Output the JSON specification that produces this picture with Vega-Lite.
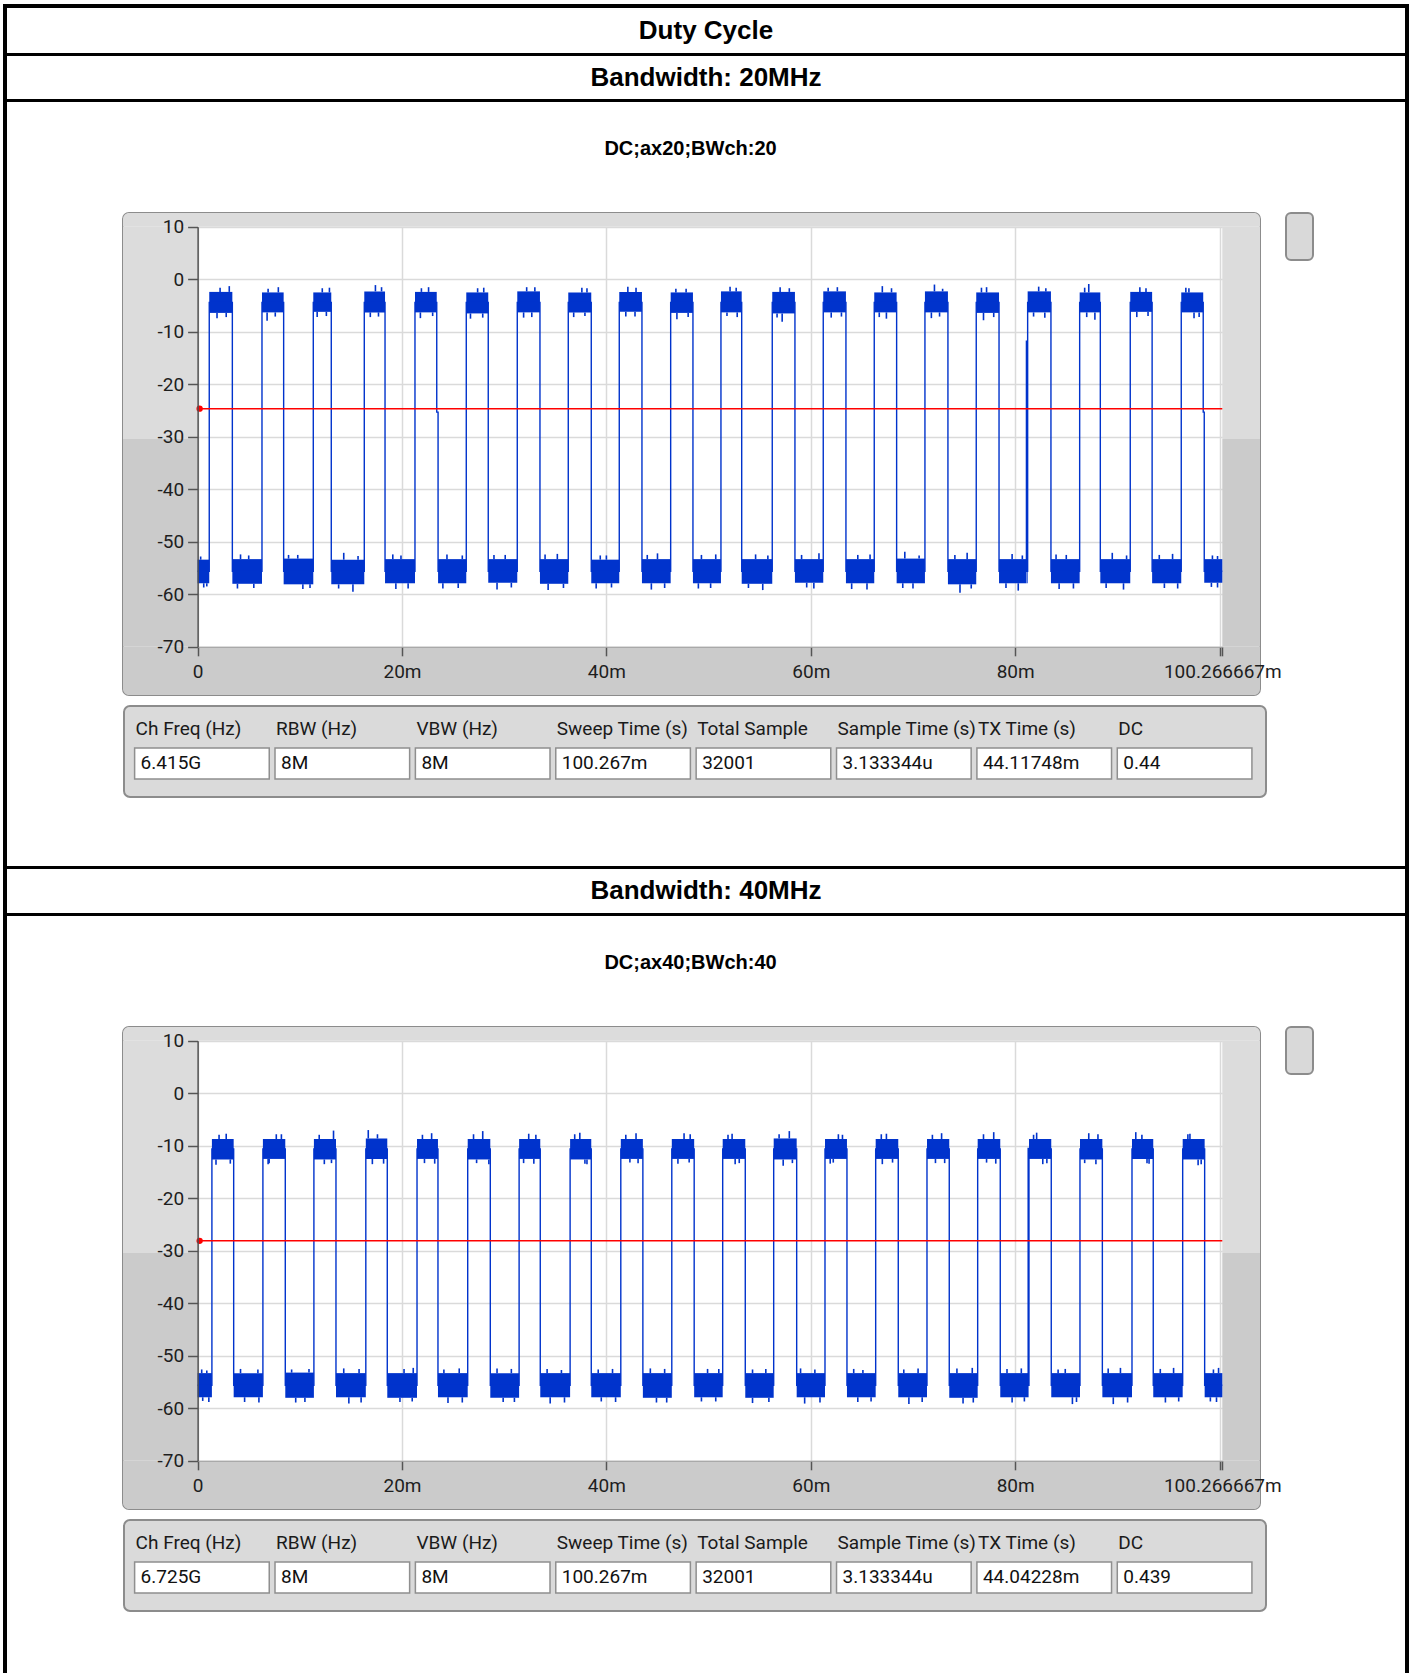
{
 "$schema": "https://vega.github.io/schema/vega-lite/v6.json",
 "padding": {"left": 3, "top": 4, "right": 0, "bottom": 0},
 "background": "white",
 "config": {"view": {"stroke": null}, "concat": {"spacing": 0}},
 "datasets": {
  "s20": [
   {"i":0,"s":0,"e":1.14,"m":-55.6,"lo":-57.9,"hi":-53.4,"da":0.6,"dt":-58.7,"ub":0.3,"uv":-52.8,"db":0.9,"dv":-58.5},
   {"i":1,"s":1.14,"e":3.40,"m":-4.4,"lo":-6.4,"hi":-2.4,"ua":3.1,"ut":-1.3,"da":1.9,"dt":-7.4,"ub":2.2,"uv":-1.6,"db":2.8,"dv":-7.2},
   {"i":2,"s":3.40,"e":6.30,"m":-55.6,"lo":-58.0,"hi":-53.3,"ua":4.2,"ut":-52.4,"da":5.5,"dt":-58.8,"ub":5.0,"uv":-52.6,"db":3.9,"dv":-58.9},
   {"i":3,"s":6.30,"e":8.42,"m":-4.4,"lo":-6.3,"hi":-2.5,"ua":7.9,"ut":-1.5,"da":6.8,"dt":-7.9,"ub":6.9,"uv":-1.8,"db":7.6,"dv":-7.1},
   {"i":4,"s":8.42,"e":11.32,"m":-55.6,"lo":-58.1,"hi":-53.2,"ua":9.8,"ut":-52.5,"da":10.3,"dt":-59.0,"ub":8.9,"uv":-52.5,"db":11.0,"dv":-58.8},
   {"i":5,"s":11.32,"e":13.08,"m":-4.4,"lo":-6.2,"hi":-2.5,"ua":12.9,"ut":-1.6,"da":11.7,"dt":-7.2,"ub":12.2,"uv":-1.7,"db":12.6,"dv":-7.0},
   {"i":6,"s":13.08,"e":16.31,"m":-55.6,"lo":-58.1,"hi":-53.4,"ua":14.3,"ut":-52.1,"da":15.2,"dt":-59.5,"ub":15.7,"uv":-52.7,"db":13.8,"dv":-58.9},
   {"i":7,"s":16.31,"e":18.34,"m":-4.4,"lo":-6.3,"hi":-2.3,"ua":17.4,"ut":-1.1,"da":16.9,"dt":-7.2,"ub":18.0,"uv":-1.5,"db":17.7,"dv":-7.1},
   {"i":8,"s":18.34,"e":21.27,"m":-55.6,"lo":-57.9,"hi":-53.3,"ua":19.9,"ut":-52.6,"da":20.6,"dt":-58.9,"ub":19.1,"uv":-52.4,"db":19.4,"dv":-59.0},
   {"i":9,"s":21.27,"e":23.40,"m":-4.4,"lo":-6.3,"hi":-2.4,"ua":22.6,"ut":-1.5,"da":21.8,"dt":-7.4,"ub":21.9,"uv":-1.7,"db":23.0,"dv":-7.0},
   {"i":10,"s":23.40,"e":23.53,"m":-25.3,"lo":-25.3,"hi":-25.3},
   {"i":11,"s":23.53,"e":26.29,"m":-55.6,"lo":-57.9,"hi":-53.3,"ua":24.4,"ut":-52.4,"da":25.5,"dt":-58.8,"ub":25.9,"uv":-52.6,"db":24.0,"dv":-58.9},
   {"i":12,"s":26.29,"e":28.44,"m":-4.4,"lo":-6.5,"hi":-2.5,"ua":27.4,"ut":-1.7,"da":26.7,"dt":-7.5,"ub":28.0,"uv":-1.6,"db":27.9,"dv":-7.3},
   {"i":13,"s":28.44,"e":31.28,"m":-55.6,"lo":-57.8,"hi":-53.3,"ua":30.1,"ut":-52.5,"da":29.3,"dt":-59.1,"ub":29.0,"uv":-52.5,"db":30.7,"dv":-58.7},
   {"i":14,"s":31.28,"e":33.50,"m":-4.4,"lo":-6.3,"hi":-2.3,"ua":32.2,"ut":-1.5,"da":31.9,"dt":-7.3,"ub":33.0,"uv":-1.5,"db":32.7,"dv":-7.2},
   {"i":15,"s":33.50,"e":36.27,"m":-55.6,"lo":-58.0,"hi":-53.3,"ua":35.2,"ut":-52.3,"da":34.3,"dt":-59.2,"ub":34.0,"uv":-52.4,"db":35.8,"dv":-58.8},
   {"i":16,"s":36.27,"e":38.52,"m":-4.4,"lo":-6.3,"hi":-2.5,"ua":37.6,"ut":-1.6,"da":36.8,"dt":-7.2,"ub":38.1,"uv":-1.7,"db":37.9,"dv":-7.0},
   {"i":17,"s":38.52,"e":41.26,"m":-55.6,"lo":-57.9,"hi":-53.4,"ua":39.4,"ut":-52.6,"da":40.5,"dt":-58.7,"ub":40.0,"uv":-52.6,"db":39.0,"dv":-58.9},
   {"i":18,"s":41.26,"e":43.48,"m":-4.4,"lo":-6.2,"hi":-2.4,"ua":42.1,"ut":-1.4,"da":42.8,"dt":-7.1,"ub":42.9,"uv":-1.6,"db":41.9,"dv":-7.1},
   {"i":19,"s":43.48,"e":46.29,"m":-55.6,"lo":-57.9,"hi":-53.3,"ua":45.0,"ut":-52.2,"da":44.4,"dt":-59.1,"ub":44.0,"uv":-52.5,"db":45.7,"dv":-58.8},
   {"i":20,"s":46.29,"e":48.47,"m":-4.4,"lo":-6.4,"hi":-2.5,"ua":47.8,"ut":-1.8,"da":46.9,"dt":-7.6,"ub":46.8,"uv":-1.8,"db":48.0,"dv":-7.2},
   {"i":21,"s":48.47,"e":51.21,"m":-55.6,"lo":-57.9,"hi":-53.3,"ua":49.3,"ut":-52.5,"da":50.2,"dt":-58.8,"ub":50.7,"uv":-52.4,"db":49.0,"dv":-58.9},
   {"i":22,"s":51.21,"e":53.24,"m":-4.4,"lo":-6.3,"hi":-2.3,"ua":52.1,"ut":-1.4,"da":52.8,"dt":-7.2,"ub":52.7,"uv":-1.6,"db":51.8,"dv":-7.0},
   {"i":23,"s":53.24,"e":56.23,"m":-55.6,"lo":-58.0,"hi":-53.3,"ua":54.6,"ut":-52.4,"da":55.3,"dt":-59.2,"ub":55.8,"uv":-52.6,"db":53.9,"dv":-58.8},
   {"i":24,"s":56.23,"e":58.45,"m":-4.4,"lo":-6.5,"hi":-2.4,"ua":57.0,"ut":-1.5,"da":57.2,"dt":-8.1,"ub":57.9,"uv":-1.7,"db":56.7,"dv":-7.3},
   {"i":25,"s":58.45,"e":61.22,"m":-55.6,"lo":-57.8,"hi":-53.3,"ua":60.8,"ut":-52.2,"da":59.6,"dt":-58.7,"ub":59.1,"uv":-52.5,"db":60.3,"dv":-58.9},
   {"i":26,"s":61.22,"e":63.44,"m":-4.4,"lo":-6.3,"hi":-2.3,"ua":62.6,"ut":-1.5,"da":62.0,"dt":-7.3,"ub":61.7,"uv":-1.6,"db":63.0,"dv":-7.1},
   {"i":27,"s":63.44,"e":66.21,"m":-55.6,"lo":-57.9,"hi":-53.3,"ua":64.6,"ut":-52.5,"da":65.5,"dt":-59.1,"ub":65.8,"uv":-52.4,"db":64.0,"dv":-59.0},
   {"i":28,"s":66.21,"e":68.40,"m":-4.4,"lo":-6.3,"hi":-2.5,"ua":67.0,"ut":-1.3,"da":67.4,"dt":-7.5,"ub":67.9,"uv":-1.7,"db":66.7,"dv":-7.2},
   {"i":29,"s":68.40,"e":71.17,"m":-55.6,"lo":-57.9,"hi":-53.2,"ua":69.2,"ut":-51.9,"da":70.0,"dt":-58.9,"ub":70.6,"uv":-52.6,"db":69.0,"dv":-58.8},
   {"i":30,"s":71.17,"e":73.42,"m":-4.4,"lo":-6.3,"hi":-2.3,"ua":72.1,"ut":-1.0,"da":71.8,"dt":-7.4,"ub":72.9,"uv":-1.8,"db":72.6,"dv":-7.1},
   {"i":31,"s":73.42,"e":76.19,"m":-55.6,"lo":-58.1,"hi":-53.3,"ua":75.3,"ut":-52.1,"da":74.6,"dt":-59.7,"ub":74.1,"uv":-52.5,"db":75.7,"dv":-58.9},
   {"i":32,"s":76.19,"e":78.42,"m":-4.4,"lo":-6.4,"hi":-2.5,"ua":77.2,"ut":-1.5,"da":76.9,"dt":-7.8,"ub":76.7,"uv":-1.6,"db":77.9,"dv":-7.2},
   {"i":33,"s":78.42,"e":81.10,"m":-55.6,"lo":-57.9,"hi":-53.3,"ua":79.7,"ut":-52.3,"da":80.3,"dt":-59.3,"ub":80.7,"uv":-52.6,"db":79.1,"dv":-58.8},
   {"i":34,"s":81.10,"e":81.13,"m":-11.8,"lo":-11.8,"hi":-11.8},
   {"i":35,"s":81.13,"e":81.22,"m":-55.6,"lo":-57.9,"hi":-53.3},
   {"i":36,"s":81.22,"e":83.50,"m":-4.4,"lo":-6.3,"hi":-2.3,"ua":82.3,"ut":-1.4,"da":82.9,"dt":-7.3,"ub":83.0,"uv":-1.7,"db":81.8,"dv":-7.1},
   {"i":37,"s":83.50,"e":86.31,"m":-55.6,"lo":-57.9,"hi":-53.3,"ua":85.0,"ut":-52.5,"da":84.3,"dt":-59.0,"ub":84.0,"uv":-52.4,"db":85.7,"dv":-58.9},
   {"i":38,"s":86.31,"e":88.33,"m":-4.4,"lo":-6.3,"hi":-2.5,"ua":87.2,"ut":-0.9,"da":87.8,"dt":-7.7,"ub":86.8,"uv":-1.6,"db":87.0,"dv":-7.2},
   {"i":39,"s":88.33,"e":91.26,"m":-55.6,"lo":-57.9,"hi":-53.3,"ua":89.5,"ut":-52.1,"da":90.6,"dt":-59.1,"ub":90.9,"uv":-52.6,"db":88.9,"dv":-58.8},
   {"i":40,"s":91.26,"e":93.40,"m":-4.4,"lo":-6.2,"hi":-2.4,"ua":92.2,"ut":-1.5,"da":91.9,"dt":-7.2,"ub":92.8,"uv":-1.7,"db":93.0,"dv":-7.0},
   {"i":41,"s":93.40,"e":96.25,"m":-55.6,"lo":-57.9,"hi":-53.3,"ua":95.4,"ut":-52.3,"da":94.6,"dt":-58.8,"ub":94.1,"uv":-52.5,"db":95.9,"dv":-58.9},
   {"i":42,"s":96.25,"e":98.40,"m":-4.4,"lo":-6.3,"hi":-2.5,"ua":97.0,"ut":-1.7,"da":97.5,"dt":-7.4,"ub":96.7,"uv":-1.6,"db":98.0,"dv":-7.2},
   {"i":43,"s":98.40,"e":98.50,"m":-25.3,"lo":-25.3,"hi":-25.3},
   {"i":44,"s":98.50,"e":100.266667,"m":-55.6,"lo":-57.8,"hi":-53.3,"ua":99.8,"ut":-52.7,"da":99.2,"dt":-58.6,"ub":99.3,"uv":-52.6,"db":99.8,"dv":-58.7}
  ],
  "s40": [
   {"i":0,"s":0,"e":1.40,"m":-55.6,"lo":-57.9,"hi":-53.3,"ua":0.9,"ut":-52.8,"da":0.5,"dt":-58.6,"ub":0.4,"uv":-52.6,"db":1.1,"dv":-58.8},
   {"i":1,"s":1.40,"e":3.53,"m":-10.6,"lo":-12.6,"hi":-8.7,"ua":2.8,"ut":-7.7,"da":1.8,"dt":-13.6,"ub":2.1,"uv":-7.9,"db":3.2,"dv":-13.4},
   {"i":2,"s":3.53,"e":6.39,"m":-55.6,"lo":-57.9,"hi":-53.3,"ua":5.9,"ut":-52.6,"da":4.6,"dt":-58.8,"ub":4.2,"uv":-52.5,"db":6.0,"dv":-58.9},
   {"i":3,"s":6.39,"e":8.58,"m":-10.6,"lo":-12.5,"hi":-8.7,"ua":7.7,"ut":-7.8,"da":7.0,"dt":-13.3,"ub":8.2,"uv":-7.8,"db":6.9,"dv":-13.5},
   {"i":4,"s":8.58,"e":11.38,"m":-55.6,"lo":-58.0,"hi":-53.2,"ua":10.9,"ut":-52.5,"da":9.6,"dt":-58.9,"ub":9.2,"uv":-52.6,"db":10.5,"dv":-58.8},
   {"i":5,"s":11.38,"e":13.54,"m":-10.6,"lo":-12.6,"hi":-8.7,"ua":13.3,"ut":-7.1,"da":12.4,"dt":-13.5,"ub":11.9,"uv":-7.9,"db":13.1,"dv":-13.3},
   {"i":6,"s":13.54,"e":16.46,"m":-55.6,"lo":-57.9,"hi":-53.3,"ua":15.8,"ut":-52.5,"da":14.8,"dt":-59.1,"ub":14.3,"uv":-52.4,"db":16.0,"dv":-58.9},
   {"i":7,"s":16.46,"e":18.56,"m":-10.6,"lo":-12.5,"hi":-8.6,"ua":16.7,"ut":-7.0,"da":18.2,"dt":-13.4,"ub":17.6,"uv":-7.8,"db":17.1,"dv":-13.5},
   {"i":8,"s":18.56,"e":21.47,"m":-55.6,"lo":-58.0,"hi":-53.3,"ua":21.1,"ut":-52.3,"da":19.8,"dt":-58.8,"ub":20.2,"uv":-52.5,"db":21.0,"dv":-58.7},
   {"i":9,"s":21.47,"e":23.52,"m":-10.6,"lo":-12.5,"hi":-8.7,"ua":22.9,"ut":-7.6,"da":22.2,"dt":-13.3,"ub":22.0,"uv":-7.9,"db":23.2,"dv":-13.4},
   {"i":10,"s":23.52,"e":26.43,"m":-55.6,"lo":-57.9,"hi":-53.3,"ua":25.6,"ut":-52.4,"da":24.5,"dt":-59.0,"ub":24.1,"uv":-52.6,"db":25.9,"dv":-58.9},
   {"i":11,"s":26.43,"e":28.64,"m":-10.6,"lo":-12.6,"hi":-8.7,"ua":27.9,"ut":-7.2,"da":28.5,"dt":-13.5,"ub":27.0,"uv":-7.8,"db":27.3,"dv":-13.3},
   {"i":12,"s":28.64,"e":31.46,"m":-55.6,"lo":-58.0,"hi":-53.3,"ua":30.7,"ut":-52.5,"da":29.9,"dt":-58.8,"ub":29.3,"uv":-52.4,"db":31.0,"dv":-58.8},
   {"i":13,"s":31.46,"e":33.53,"m":-10.6,"lo":-12.5,"hi":-8.7,"ua":32.4,"ut":-7.7,"da":31.9,"dt":-13.3,"ub":33.1,"uv":-7.9,"db":32.9,"dv":-13.4},
   {"i":14,"s":33.53,"e":36.45,"m":-55.6,"lo":-57.9,"hi":-53.3,"ua":35.6,"ut":-52.7,"da":34.5,"dt":-59.1,"ub":34.2,"uv":-52.5,"db":35.9,"dv":-58.9},
   {"i":15,"s":36.45,"e":38.52,"m":-10.6,"lo":-12.6,"hi":-8.7,"ua":37.4,"ut":-7.5,"da":37.9,"dt":-13.4,"ub":36.9,"uv":-7.8,"db":38.1,"dv":-13.5},
   {"i":16,"s":38.52,"e":41.41,"m":-55.6,"lo":-57.9,"hi":-53.3,"ua":40.6,"ut":-52.5,"da":39.5,"dt":-58.7,"ub":39.2,"uv":-52.6,"db":40.9,"dv":-58.8},
   {"i":17,"s":41.41,"e":43.57,"m":-10.6,"lo":-12.5,"hi":-8.7,"ua":42.9,"ut":-7.6,"da":42.3,"dt":-13.2,"ub":41.9,"uv":-7.9,"db":43.1,"dv":-13.3},
   {"i":18,"s":43.57,"e":46.40,"m":-55.6,"lo":-58.0,"hi":-53.3,"ua":45.7,"ut":-52.5,"da":44.9,"dt":-58.9,"ub":44.3,"uv":-52.4,"db":45.9,"dv":-58.9},
   {"i":19,"s":46.40,"e":48.59,"m":-10.6,"lo":-12.5,"hi":-8.7,"ua":47.6,"ut":-7.6,"da":48.1,"dt":-13.2,"ub":48.2,"uv":-7.8,"db":47.0,"dv":-13.4},
   {"i":20,"s":48.59,"e":51.38,"m":-55.6,"lo":-57.9,"hi":-53.3,"ua":49.9,"ut":-52.5,"da":50.7,"dt":-58.7,"ub":51.0,"uv":-52.5,"db":49.3,"dv":-58.7},
   {"i":21,"s":51.38,"e":53.59,"m":-10.6,"lo":-12.5,"hi":-8.7,"ua":52.3,"ut":-7.7,"da":53.0,"dt":-13.3,"ub":51.9,"uv":-7.9,"db":52.6,"dv":-13.5},
   {"i":22,"s":53.59,"e":56.37,"m":-55.6,"lo":-58.0,"hi":-53.3,"ua":55.6,"ut":-52.5,"da":54.3,"dt":-59.0,"ub":54.3,"uv":-52.6,"db":55.9,"dv":-58.8},
   {"i":23,"s":56.37,"e":58.62,"m":-10.6,"lo":-12.6,"hi":-8.6,"ua":57.9,"ut":-7.2,"da":57.3,"dt":-13.8,"ub":56.9,"uv":-7.8,"db":58.2,"dv":-13.3},
   {"i":24,"s":58.62,"e":61.39,"m":-55.6,"lo":-57.9,"hi":-53.3,"ua":60.4,"ut":-52.6,"da":59.4,"dt":-59.1,"ub":59.0,"uv":-52.4,"db":60.9,"dv":-58.9},
   {"i":25,"s":61.39,"e":63.54,"m":-10.6,"lo":-12.5,"hi":-8.7,"ua":62.7,"ut":-7.8,"da":62.2,"dt":-13.2,"ub":63.1,"uv":-7.9,"db":61.9,"dv":-13.4},
   {"i":26,"s":63.54,"e":66.35,"m":-55.6,"lo":-57.9,"hi":-53.3,"ua":65.1,"ut":-52.7,"da":64.6,"dt":-58.8,"ub":64.2,"uv":-52.5,"db":65.9,"dv":-58.7},
   {"i":27,"s":66.35,"e":68.56,"m":-10.6,"lo":-12.5,"hi":-8.7,"ua":67.4,"ut":-7.7,"da":68.0,"dt":-13.2,"ub":66.9,"uv":-7.8,"db":67.0,"dv":-13.5},
   {"i":28,"s":68.56,"e":71.37,"m":-55.6,"lo":-57.9,"hi":-53.3,"ua":70.5,"ut":-52.4,"da":69.6,"dt":-59.2,"ub":69.1,"uv":-52.6,"db":70.9,"dv":-58.8},
   {"i":29,"s":71.37,"e":73.55,"m":-10.6,"lo":-12.5,"hi":-8.7,"ua":72.8,"ut":-7.6,"da":72.2,"dt":-13.3,"ub":71.9,"uv":-7.9,"db":73.1,"dv":-13.3},
   {"i":30,"s":73.55,"e":76.33,"m":-55.6,"lo":-58.0,"hi":-53.3,"ua":75.8,"ut":-52.3,"da":74.9,"dt":-59.1,"ub":74.3,"uv":-52.4,"db":75.9,"dv":-58.9},
   {"i":31,"s":76.33,"e":78.54,"m":-10.6,"lo":-12.5,"hi":-8.7,"ua":77.9,"ut":-7.4,"da":77.2,"dt":-13.2,"ub":76.9,"uv":-7.8,"db":78.1,"dv":-13.4},
   {"i":32,"s":78.54,"e":81.27,"m":-55.6,"lo":-57.9,"hi":-53.3,"ua":80.6,"ut":-52.4,"da":79.7,"dt":-58.9,"ub":79.2,"uv":-52.5,"db":80.9,"dv":-58.7},
   {"i":33,"s":81.27,"e":81.30,"m":-10.5,"lo":-10.5,"hi":-10.5},
   {"i":34,"s":81.30,"e":81.35,"m":-55.6,"lo":-57.9,"hi":-53.3},
   {"i":35,"s":81.35,"e":83.53,"m":-10.6,"lo":-12.5,"hi":-8.7,"ua":82.1,"ut":-7.5,"da":83.1,"dt":-13.3,"ub":81.8,"uv":-7.9,"db":82.7,"dv":-13.5},
   {"i":36,"s":83.53,"e":86.34,"m":-55.6,"lo":-57.9,"hi":-53.3,"ua":84.9,"ut":-52.5,"da":85.6,"dt":-59.2,"ub":84.2,"uv":-52.6,"db":86.0,"dv":-58.8},
   {"i":37,"s":86.34,"e":88.53,"m":-10.6,"lo":-12.6,"hi":-8.7,"ua":87.2,"ut":-7.6,"da":87.9,"dt":-13.5,"ub":88.1,"uv":-7.8,"db":86.8,"dv":-13.3},
   {"i":38,"s":88.53,"e":91.43,"m":-55.6,"lo":-57.9,"hi":-53.3,"ua":90.3,"ut":-52.3,"da":89.6,"dt":-59.2,"ub":89.1,"uv":-52.4,"db":91.0,"dv":-58.9},
   {"i":39,"s":91.43,"e":93.51,"m":-10.6,"lo":-12.5,"hi":-8.7,"ua":91.8,"ut":-7.4,"da":92.9,"dt":-13.3,"ub":92.4,"uv":-7.9,"db":93.1,"dv":-13.4},
   {"i":40,"s":93.51,"e":96.39,"m":-55.6,"lo":-57.9,"hi":-53.3,"ua":95.5,"ut":-52.3,"da":94.7,"dt":-58.9,"ub":94.2,"uv":-52.5,"db":96.0,"dv":-58.7},
   {"i":41,"s":96.39,"e":98.54,"m":-10.6,"lo":-12.6,"hi":-8.7,"ua":97.1,"ut":-7.7,"da":97.9,"dt":-13.7,"ub":96.9,"uv":-7.8,"db":98.2,"dv":-13.5},
   {"i":42,"s":98.54,"e":100.266667,"m":-55.6,"lo":-57.9,"hi":-53.3,"ua":99.9,"ut":-52.3,"da":99.1,"dt":-58.7,"ub":99.4,"uv":-52.6,"db":99.7,"dv":-58.8}
  ],
  "th20": [{"t0":0,"t1":100.266667,"y":-24.65,"d":0.2}],
  "th40": [{"t0":0,"t1":100.266667,"y":-28.1,"d":0.2}],
  "tab20": [
   {"c":"Ch Freq (Hz)","v":"6.415G"},{"c":"RBW (Hz)","v":"8M"},{"c":"VBW (Hz)","v":"8M"},{"c":"Sweep Time (s)","v":"100.267m"},
   {"c":"Total Sample","v":"32001"},{"c":"Sample Time (s)","v":"3.133344u"},{"c":"TX Time (s)","v":"44.11748m"},{"c":"DC","v":"0.44"}
  ],
  "tab40": [
   {"c":"Ch Freq (Hz)","v":"6.725G"},{"c":"RBW (Hz)","v":"8M"},{"c":"VBW (Hz)","v":"8M"},{"c":"Sweep Time (s)","v":"100.267m"},
   {"c":"Total Sample","v":"32001"},{"c":"Sample Time (s)","v":"3.133344u"},{"c":"TX Time (s)","v":"44.04228m"},{"c":"DC","v":"0.439"}
  ]
 },
 "spacing": 0,
 "hconcat": [
  {"width": 4, "height": 1669, "view": {"fill": "black"}, "data": {"values": [{}]}, "mark": {"type": "point", "size": 0, "opacity": 0}},
  {"spacing": 0, "vconcat": [
   {"width": 1398, "height": 4, "view": {"fill": "black"}, "data": {"values": [{}]}, "mark": {"type": "point", "size": 0, "opacity": 0}},
   {"width": 1398, "height": 45, "data": {"values": [{"t": "Duty Cycle"}]}, "mark": {"type": "text", "font": "Liberation Sans", "fontWeight": "bold", "fontSize": 26, "color": "black"}, "encoding": {"text": {"field": "t"}}},
   {"width": 1398, "height": 3, "view": {"fill": "black"}, "data": {"values": [{}]}, "mark": {"type": "point", "size": 0, "opacity": 0}},
   {"width": 1398, "height": 43, "data": {"values": [{"t": "Bandwidth: 20MHz"}]}, "mark": {"type": "text", "font": "Liberation Sans", "fontWeight": "bold", "fontSize": 26, "color": "black"}, "encoding": {"text": {"field": "t"}}},
   {"width": 1398, "height": 3, "view": {"fill": "black"}, "data": {"values": [{}]}, "mark": {"type": "point", "size": 0, "opacity": 0}},
   {"spacing": 0, "vconcat": [
    {"spacing": 27, "hconcat": [
     {"width": 88, "height": 110, "data": {"values": [{}]}, "mark": {"type": "point", "size": 0, "opacity": 0}},
     {"width": 1137, "height": 110, "data": {"values": [{"t": "DC;ax20;BWch:20"}]}, "mark": {"type": "text", "font": "Liberation Sans", "fontWeight": "bold", "fontSize": 20, "dy": -8, "color": "black"}, "encoding": {"text": {"field": "t"}}}
    ]},
    {"spacing": 2, "hconcat": [
     {"width": 113, "height": 492, "data": {"values": [{}]}, "mark": {"type": "point", "size": 0, "opacity": 0}},
     {"width": 1137, "height": 482,
      "view": {"fill": "white", "stroke": "#8c8c8c", "strokeWidth": 2, "cornerRadius": 6},
      "resolve": {"axis": {"x": "independent", "y": "independent"}},
      "layer": [
       {"data": {"values": [{}]}, "mark": {"type": "rect", "fill": "#dcdcdc", "cornerRadiusTopLeft": 6, "cornerRadiusTopRight": 6},
        "encoding": {"x": {"value": 0}, "x2": {"value": "width"}, "y": {"datum": 10, "type": "quantitative", "scale": {"domain": [-70, 10], "range": [433.8, 13.8], "nice": false, "zero": false}, "axis": null}, "y2": {"value": 0}}},
       {"data": {"values": [{}]}, "mark": {"type": "rect", "fill": "#cbcbcb", "cornerRadiusBottomLeft": 6, "cornerRadiusBottomRight": 6},
        "encoding": {"x": {"value": 0}, "x2": {"value": "width"}, "y": {"datum": -70, "type": "quantitative", "scale": {"domain": [-70, 10], "range": [433.8, 13.8], "nice": false, "zero": false}, "axis": null}, "y2": {"value": "height"}}},
       {"data": {"values": [{}]}, "mark": {"type": "rect", "fill": "#dcdcdc"},
        "encoding": {"x": {"datum": 0, "type": "quantitative", "scale": {"domain": [0, 100.266667], "range": [74.6, 1099.3], "nice": false, "zero": false}, "axis": null}, "x2": {"value": 0}, "y": {"datum": 10, "type": "quantitative", "scale": {"domain": [-70, 10], "range": [433.8, 13.8], "nice": false, "zero": false}, "axis": null}, "y2": {"datum": -30.4}}},
       {"data": {"values": [{}]}, "mark": {"type": "rect", "fill": "#cbcbcb"},
        "encoding": {"x": {"datum": 0, "type": "quantitative", "scale": {"domain": [0, 100.266667], "range": [74.6, 1099.3], "nice": false, "zero": false}, "axis": null}, "x2": {"value": 0}, "y": {"datum": -30.4, "type": "quantitative", "scale": {"domain": [-70, 10], "range": [433.8, 13.8], "nice": false, "zero": false}, "axis": null}, "y2": {"datum": -70}}},
       {"data": {"values": [{}]}, "mark": {"type": "rect", "fill": "#dcdcdc"},
        "encoding": {"x": {"datum": 100.266667, "type": "quantitative", "scale": {"domain": [0, 100.266667], "range": [74.6, 1099.3], "nice": false, "zero": false}, "axis": null}, "x2": {"value": "width"}, "y": {"datum": 10, "type": "quantitative", "scale": {"domain": [-70, 10], "range": [433.8, 13.8], "nice": false, "zero": false}, "axis": null}, "y2": {"datum": -30.4}}},
       {"data": {"values": [{}]}, "mark": {"type": "rect", "fill": "#cbcbcb"},
        "encoding": {"x": {"datum": 100.266667, "type": "quantitative", "scale": {"domain": [0, 100.266667], "range": [74.6, 1099.3], "nice": false, "zero": false}, "axis": null}, "x2": {"value": "width"}, "y": {"datum": -30.4, "type": "quantitative", "scale": {"domain": [-70, 10], "range": [433.8, 13.8], "nice": false, "zero": false}, "axis": null}, "y2": {"datum": -70}}},
       {"data": {"name": "s20"}, "mark": {"type": "rect", "color": "#0033cc"},
        "encoding": {
         "x": {"field": "s", "type": "quantitative", "scale": {"domain": [0, 100.266667], "range": [74.6, 1099.3], "nice": false, "zero": false},
               "axis": {"orient": "top", "grid": true, "gridColor": "#dadada", "gridWidth": 1.5, "domain": false, "ticks": false, "labels": false, "title": null, "values": [0, 20, 40, 60, 80, 100], "zindex": 0}},
         "x2": {"field": "e"},
         "y": {"field": "lo", "type": "quantitative", "scale": {"domain": [-70, 10], "range": [433.8, 13.8], "nice": false, "zero": false},
               "axis": {"orient": "left", "offset": -74.6, "grid": true, "gridColor": "#dadada", "gridWidth": 1.5, "domain": false, "ticks": false, "labels": false, "title": null, "values": [-70, -60, -50, -40, -30, -20, -10, 0, 10], "zindex": 0}},
         "y2": {"field": "hi"}}},
       {"data": {"name": "s20"}, "transform": [{"fold": ["s", "e"], "as": ["k", "t"]}], "mark": {"type": "line", "color": "#0033cc", "strokeWidth": 1.4},
        "encoding": {
         "x": {"field": "t", "type": "quantitative", "scale": {"domain": [0, 100.266667], "range": [74.6, 1099.3], "nice": false, "zero": false},
               "axis": {"orient": "bottom", "offset": -48.2, "grid": false, "values": [0, 20, 40, 60, 80, 100, 100.266667], "labelExpr": "datum.value == 0 ? '0' : datum.value > 100.1 ? '100.266667m' : datum.value > 99 ? '' : datum.value + 'm'", "labelFont": "Roboto", "labelFontSize": 19, "labelColor": "#1e1e1e", "labelPadding": 7, "tickSize": 9, "tickColor": "#555555", "tickWidth": 1.5, "domainColor": "#a0a0a0", "domainWidth": 1, "labelOverlap": false, "labelFlush": false, "title": null, "zindex": 1}},
         "y": {"field": "m", "type": "quantitative", "scale": {"domain": [-70, 10], "range": [433.8, 13.8], "nice": false, "zero": false},
               "axis": {"orient": "left", "offset": -74.6, "grid": false, "values": [-70, -60, -50, -40, -30, -20, -10, 0, 10], "labelExpr": "'' + datum.value", "labelFont": "Roboto", "labelFontSize": 19, "labelColor": "#1e1e1e", "labelPadding": 4, "tickSize": 10, "tickColor": "#555555", "tickWidth": 1.5, "domainColor": "#505050", "domainWidth": 1.5, "title": null, "zindex": 1}},
         "order": [{"field": "t", "type": "quantitative"}, {"field": "i", "type": "quantitative"}]}},
       {"data": {"name": "s20"}, "mark": {"type": "rule", "color": "#0033cc", "strokeWidth": 1.6},
        "encoding": {"x": {"field": "ua", "type": "quantitative", "scale": {"domain": [0, 100.266667], "range": [74.6, 1099.3], "nice": false, "zero": false}, "axis": null}, "y": {"field": "hi", "type": "quantitative", "scale": {"domain": [-70, 10], "range": [433.8, 13.8], "nice": false, "zero": false}, "axis": null}, "y2": {"field": "ut"}}},
       {"data": {"name": "s20"}, "mark": {"type": "rule", "color": "#0033cc", "strokeWidth": 1.6},
        "encoding": {"x": {"field": "da", "type": "quantitative", "scale": {"domain": [0, 100.266667], "range": [74.6, 1099.3], "nice": false, "zero": false}, "axis": null}, "y": {"field": "lo", "type": "quantitative", "scale": {"domain": [-70, 10], "range": [433.8, 13.8], "nice": false, "zero": false}, "axis": null}, "y2": {"field": "dt"}}},
       {"data": {"name": "s20"}, "mark": {"type": "rule", "color": "#0033cc", "strokeWidth": 1.6},
        "encoding": {"x": {"field": "ub", "type": "quantitative", "scale": {"domain": [0, 100.266667], "range": [74.6, 1099.3], "nice": false, "zero": false}, "axis": null}, "y": {"field": "hi", "type": "quantitative", "scale": {"domain": [-70, 10], "range": [433.8, 13.8], "nice": false, "zero": false}, "axis": null}, "y2": {"field": "uv"}}},
       {"data": {"name": "s20"}, "mark": {"type": "rule", "color": "#0033cc", "strokeWidth": 1.6},
        "encoding": {"x": {"field": "db", "type": "quantitative", "scale": {"domain": [0, 100.266667], "range": [74.6, 1099.3], "nice": false, "zero": false}, "axis": null}, "y": {"field": "lo", "type": "quantitative", "scale": {"domain": [-70, 10], "range": [433.8, 13.8], "nice": false, "zero": false}, "axis": null}, "y2": {"field": "dv"}}},
       {"data": {"name": "th20"}, "mark": {"type": "rule", "color": "#ff0000", "strokeWidth": 1.5},
        "encoding": {"x": {"field": "t0", "type": "quantitative", "scale": {"domain": [0, 100.266667], "range": [74.6, 1099.3], "nice": false, "zero": false}, "axis": null}, "x2": {"field": "t1"}, "y": {"field": "y", "type": "quantitative", "scale": {"domain": [-70, 10], "range": [433.8, 13.8], "nice": false, "zero": false}, "axis": null}}},
       {"data": {"name": "th20"}, "mark": {"type": "point", "filled": true, "shape": "circle", "color": "#ff0000", "size": 40, "opacity": 1},
        "encoding": {"x": {"field": "d", "type": "quantitative", "scale": {"domain": [0, 100.266667], "range": [74.6, 1099.3], "nice": false, "zero": false}, "axis": null}, "y": {"field": "y", "type": "quantitative", "scale": {"domain": [-70, 10], "range": [433.8, 13.8], "nice": false, "zero": false}, "axis": null}}}
      ]},
     {"width": 27, "height": 47, "view": {"fill": "#d9d9d9", "stroke": "#8c8c8c", "strokeWidth": 2, "cornerRadius": 5}, "data": {"values": [{}]}, "mark": {"type": "point", "size": 0, "opacity": 0}}
    ]},
    {"spacing": 27, "hconcat": [
     {"width": 89, "height": 160, "data": {"values": [{}]}, "mark": {"type": "point", "size": 0, "opacity": 0}},
     {"width": 1142, "height": 91,
      "view": {"fill": "#dadada", "stroke": "#8c8c8c", "strokeWidth": 2, "cornerRadius": 6},
      "data": {"name": "tab20"},
      "layer": [
       {"mark": {"type": "rect", "fill": "white", "stroke": "#8f8f8f", "strokeWidth": 1.5},
        "encoding": {"x": {"field": "c", "type": "nominal", "sort": null, "scale": {"type": "band", "paddingInner": 0.041, "paddingOuter": 0.088, "align": 0.43}, "axis": null},
                     "y": {"datum": "val", "type": "nominal", "scale": {"type": "band", "domain": ["head", "val"], "paddingInner": 0.1, "paddingOuter": 0.37, "align": 0.294}, "axis": null}}},
       {"mark": {"type": "text", "align": "left", "dx": 6, "font": "Roboto", "fontSize": 19, "color": "#111111"},
        "encoding": {"x": {"field": "c", "type": "nominal", "sort": null, "bandPosition": 0, "scale": {"type": "band", "paddingInner": 0.041, "paddingOuter": 0.088, "align": 0.43}, "axis": null},
                     "y": {"datum": "val", "type": "nominal", "scale": {"type": "band", "domain": ["head", "val"], "paddingInner": 0.1, "paddingOuter": 0.37, "align": 0.294}, "axis": null},
                     "text": {"field": "v"}}},
       {"mark": {"type": "text", "align": "left", "dx": 1, "font": "Roboto", "fontSize": 19, "color": "#1a1a1a"},
        "encoding": {"x": {"field": "c", "type": "nominal", "sort": null, "bandPosition": 0, "scale": {"type": "band", "paddingInner": 0.041, "paddingOuter": 0.088, "align": 0.43}, "axis": null},
                     "y": {"datum": "head", "type": "nominal", "scale": {"type": "band", "domain": ["head", "val"], "paddingInner": 0.1, "paddingOuter": 0.37, "align": 0.294}, "axis": null},
                     "text": {"field": "c"}}}
      ]}
    ]}
   ]},
   {"width": 1398, "height": 3, "view": {"fill": "black"}, "data": {"values": [{}]}, "mark": {"type": "point", "size": 0, "opacity": 0}},
   {"width": 1398, "height": 44, "data": {"values": [{"t": "Bandwidth: 40MHz"}]}, "mark": {"type": "text", "font": "Liberation Sans", "fontWeight": "bold", "fontSize": 26, "color": "black"}, "encoding": {"text": {"field": "t"}}},
   {"width": 1398, "height": 3, "view": {"fill": "black"}, "data": {"values": [{}]}, "mark": {"type": "point", "size": 0, "opacity": 0}},
   {"spacing": 0, "vconcat": [
    {"spacing": 27, "hconcat": [
     {"width": 88, "height": 110, "data": {"values": [{}]}, "mark": {"type": "point", "size": 0, "opacity": 0}},
     {"width": 1137, "height": 110, "data": {"values": [{"t": "DC;ax40;BWch:40"}]}, "mark": {"type": "text", "font": "Liberation Sans", "fontWeight": "bold", "fontSize": 20, "dy": -8, "color": "black"}, "encoding": {"text": {"field": "t"}}}
    ]},
    {"spacing": 2, "hconcat": [
     {"width": 113, "height": 492, "data": {"values": [{}]}, "mark": {"type": "point", "size": 0, "opacity": 0}},
     {"width": 1137, "height": 482,
      "view": {"fill": "white", "stroke": "#8c8c8c", "strokeWidth": 2, "cornerRadius": 6},
      "resolve": {"axis": {"x": "independent", "y": "independent"}},
      "layer": [
       {"data": {"values": [{}]}, "mark": {"type": "rect", "fill": "#dcdcdc", "cornerRadiusTopLeft": 6, "cornerRadiusTopRight": 6},
        "encoding": {"x": {"value": 0}, "x2": {"value": "width"}, "y": {"datum": 10, "type": "quantitative", "scale": {"domain": [-70, 10], "range": [433.8, 13.8], "nice": false, "zero": false}, "axis": null}, "y2": {"value": 0}}},
       {"data": {"values": [{}]}, "mark": {"type": "rect", "fill": "#cbcbcb", "cornerRadiusBottomLeft": 6, "cornerRadiusBottomRight": 6},
        "encoding": {"x": {"value": 0}, "x2": {"value": "width"}, "y": {"datum": -70, "type": "quantitative", "scale": {"domain": [-70, 10], "range": [433.8, 13.8], "nice": false, "zero": false}, "axis": null}, "y2": {"value": "height"}}},
       {"data": {"values": [{}]}, "mark": {"type": "rect", "fill": "#dcdcdc"},
        "encoding": {"x": {"datum": 0, "type": "quantitative", "scale": {"domain": [0, 100.266667], "range": [74.6, 1099.3], "nice": false, "zero": false}, "axis": null}, "x2": {"value": 0}, "y": {"datum": 10, "type": "quantitative", "scale": {"domain": [-70, 10], "range": [433.8, 13.8], "nice": false, "zero": false}, "axis": null}, "y2": {"datum": -30.4}}},
       {"data": {"values": [{}]}, "mark": {"type": "rect", "fill": "#cbcbcb"},
        "encoding": {"x": {"datum": 0, "type": "quantitative", "scale": {"domain": [0, 100.266667], "range": [74.6, 1099.3], "nice": false, "zero": false}, "axis": null}, "x2": {"value": 0}, "y": {"datum": -30.4, "type": "quantitative", "scale": {"domain": [-70, 10], "range": [433.8, 13.8], "nice": false, "zero": false}, "axis": null}, "y2": {"datum": -70}}},
       {"data": {"values": [{}]}, "mark": {"type": "rect", "fill": "#dcdcdc"},
        "encoding": {"x": {"datum": 100.266667, "type": "quantitative", "scale": {"domain": [0, 100.266667], "range": [74.6, 1099.3], "nice": false, "zero": false}, "axis": null}, "x2": {"value": "width"}, "y": {"datum": 10, "type": "quantitative", "scale": {"domain": [-70, 10], "range": [433.8, 13.8], "nice": false, "zero": false}, "axis": null}, "y2": {"datum": -30.4}}},
       {"data": {"values": [{}]}, "mark": {"type": "rect", "fill": "#cbcbcb"},
        "encoding": {"x": {"datum": 100.266667, "type": "quantitative", "scale": {"domain": [0, 100.266667], "range": [74.6, 1099.3], "nice": false, "zero": false}, "axis": null}, "x2": {"value": "width"}, "y": {"datum": -30.4, "type": "quantitative", "scale": {"domain": [-70, 10], "range": [433.8, 13.8], "nice": false, "zero": false}, "axis": null}, "y2": {"datum": -70}}},
       {"data": {"name": "s40"}, "mark": {"type": "rect", "color": "#0033cc"},
        "encoding": {
         "x": {"field": "s", "type": "quantitative", "scale": {"domain": [0, 100.266667], "range": [74.6, 1099.3], "nice": false, "zero": false},
               "axis": {"orient": "top", "grid": true, "gridColor": "#dadada", "gridWidth": 1.5, "domain": false, "ticks": false, "labels": false, "title": null, "values": [0, 20, 40, 60, 80, 100], "zindex": 0}},
         "x2": {"field": "e"},
         "y": {"field": "lo", "type": "quantitative", "scale": {"domain": [-70, 10], "range": [433.8, 13.8], "nice": false, "zero": false},
               "axis": {"orient": "left", "offset": -74.6, "grid": true, "gridColor": "#dadada", "gridWidth": 1.5, "domain": false, "ticks": false, "labels": false, "title": null, "values": [-70, -60, -50, -40, -30, -20, -10, 0, 10], "zindex": 0}},
         "y2": {"field": "hi"}}},
       {"data": {"name": "s40"}, "transform": [{"fold": ["s", "e"], "as": ["k", "t"]}], "mark": {"type": "line", "color": "#0033cc", "strokeWidth": 1.4},
        "encoding": {
         "x": {"field": "t", "type": "quantitative", "scale": {"domain": [0, 100.266667], "range": [74.6, 1099.3], "nice": false, "zero": false},
               "axis": {"orient": "bottom", "offset": -48.2, "grid": false, "values": [0, 20, 40, 60, 80, 100, 100.266667], "labelExpr": "datum.value == 0 ? '0' : datum.value > 100.1 ? '100.266667m' : datum.value > 99 ? '' : datum.value + 'm'", "labelFont": "Roboto", "labelFontSize": 19, "labelColor": "#1e1e1e", "labelPadding": 7, "tickSize": 9, "tickColor": "#555555", "tickWidth": 1.5, "domainColor": "#a0a0a0", "domainWidth": 1, "labelOverlap": false, "labelFlush": false, "title": null, "zindex": 1}},
         "y": {"field": "m", "type": "quantitative", "scale": {"domain": [-70, 10], "range": [433.8, 13.8], "nice": false, "zero": false},
               "axis": {"orient": "left", "offset": -74.6, "grid": false, "values": [-70, -60, -50, -40, -30, -20, -10, 0, 10], "labelExpr": "'' + datum.value", "labelFont": "Roboto", "labelFontSize": 19, "labelColor": "#1e1e1e", "labelPadding": 4, "tickSize": 10, "tickColor": "#555555", "tickWidth": 1.5, "domainColor": "#505050", "domainWidth": 1.5, "title": null, "zindex": 1}},
         "order": [{"field": "t", "type": "quantitative"}, {"field": "i", "type": "quantitative"}]}},
       {"data": {"name": "s40"}, "mark": {"type": "rule", "color": "#0033cc", "strokeWidth": 1.6},
        "encoding": {"x": {"field": "ua", "type": "quantitative", "scale": {"domain": [0, 100.266667], "range": [74.6, 1099.3], "nice": false, "zero": false}, "axis": null}, "y": {"field": "hi", "type": "quantitative", "scale": {"domain": [-70, 10], "range": [433.8, 13.8], "nice": false, "zero": false}, "axis": null}, "y2": {"field": "ut"}}},
       {"data": {"name": "s40"}, "mark": {"type": "rule", "color": "#0033cc", "strokeWidth": 1.6},
        "encoding": {"x": {"field": "da", "type": "quantitative", "scale": {"domain": [0, 100.266667], "range": [74.6, 1099.3], "nice": false, "zero": false}, "axis": null}, "y": {"field": "lo", "type": "quantitative", "scale": {"domain": [-70, 10], "range": [433.8, 13.8], "nice": false, "zero": false}, "axis": null}, "y2": {"field": "dt"}}},
       {"data": {"name": "s40"}, "mark": {"type": "rule", "color": "#0033cc", "strokeWidth": 1.6},
        "encoding": {"x": {"field": "ub", "type": "quantitative", "scale": {"domain": [0, 100.266667], "range": [74.6, 1099.3], "nice": false, "zero": false}, "axis": null}, "y": {"field": "hi", "type": "quantitative", "scale": {"domain": [-70, 10], "range": [433.8, 13.8], "nice": false, "zero": false}, "axis": null}, "y2": {"field": "uv"}}},
       {"data": {"name": "s40"}, "mark": {"type": "rule", "color": "#0033cc", "strokeWidth": 1.6},
        "encoding": {"x": {"field": "db", "type": "quantitative", "scale": {"domain": [0, 100.266667], "range": [74.6, 1099.3], "nice": false, "zero": false}, "axis": null}, "y": {"field": "lo", "type": "quantitative", "scale": {"domain": [-70, 10], "range": [433.8, 13.8], "nice": false, "zero": false}, "axis": null}, "y2": {"field": "dv"}}},
       {"data": {"name": "th40"}, "mark": {"type": "rule", "color": "#ff0000", "strokeWidth": 1.5},
        "encoding": {"x": {"field": "t0", "type": "quantitative", "scale": {"domain": [0, 100.266667], "range": [74.6, 1099.3], "nice": false, "zero": false}, "axis": null}, "x2": {"field": "t1"}, "y": {"field": "y", "type": "quantitative", "scale": {"domain": [-70, 10], "range": [433.8, 13.8], "nice": false, "zero": false}, "axis": null}}},
       {"data": {"name": "th40"}, "mark": {"type": "point", "filled": true, "shape": "circle", "color": "#ff0000", "size": 40, "opacity": 1},
        "encoding": {"x": {"field": "d", "type": "quantitative", "scale": {"domain": [0, 100.266667], "range": [74.6, 1099.3], "nice": false, "zero": false}, "axis": null}, "y": {"field": "y", "type": "quantitative", "scale": {"domain": [-70, 10], "range": [433.8, 13.8], "nice": false, "zero": false}, "axis": null}}}
      ]},
     {"width": 27, "height": 47, "view": {"fill": "#d9d9d9", "stroke": "#8c8c8c", "strokeWidth": 2, "cornerRadius": 5}, "data": {"values": [{}]}, "mark": {"type": "point", "size": 0, "opacity": 0}}
    ]},
    {"spacing": 27, "hconcat": [
     {"width": 89, "height": 157, "data": {"values": [{}]}, "mark": {"type": "point", "size": 0, "opacity": 0}},
     {"width": 1142, "height": 91,
      "view": {"fill": "#dadada", "stroke": "#8c8c8c", "strokeWidth": 2, "cornerRadius": 6},
      "data": {"name": "tab40"},
      "layer": [
       {"mark": {"type": "rect", "fill": "white", "stroke": "#8f8f8f", "strokeWidth": 1.5},
        "encoding": {"x": {"field": "c", "type": "nominal", "sort": null, "scale": {"type": "band", "paddingInner": 0.041, "paddingOuter": 0.088, "align": 0.43}, "axis": null},
                     "y": {"datum": "val", "type": "nominal", "scale": {"type": "band", "domain": ["head", "val"], "paddingInner": 0.1, "paddingOuter": 0.37, "align": 0.294}, "axis": null}}},
       {"mark": {"type": "text", "align": "left", "dx": 6, "font": "Roboto", "fontSize": 19, "color": "#111111"},
        "encoding": {"x": {"field": "c", "type": "nominal", "sort": null, "bandPosition": 0, "scale": {"type": "band", "paddingInner": 0.041, "paddingOuter": 0.088, "align": 0.43}, "axis": null},
                     "y": {"datum": "val", "type": "nominal", "scale": {"type": "band", "domain": ["head", "val"], "paddingInner": 0.1, "paddingOuter": 0.37, "align": 0.294}, "axis": null},
                     "text": {"field": "v"}}},
       {"mark": {"type": "text", "align": "left", "dx": 1, "font": "Roboto", "fontSize": 19, "color": "#1a1a1a"},
        "encoding": {"x": {"field": "c", "type": "nominal", "sort": null, "bandPosition": 0, "scale": {"type": "band", "paddingInner": 0.041, "paddingOuter": 0.088, "align": 0.43}, "axis": null},
                     "y": {"datum": "head", "type": "nominal", "scale": {"type": "band", "domain": ["head", "val"], "paddingInner": 0.1, "paddingOuter": 0.37, "align": 0.294}, "axis": null},
                     "text": {"field": "c"}}}
      ]}
    ]}
   ]}
  ]},
  {"width": 4, "height": 1669, "view": {"fill": "black"}, "data": {"values": [{}]}, "mark": {"type": "point", "size": 0, "opacity": 0}}
 ]
}
